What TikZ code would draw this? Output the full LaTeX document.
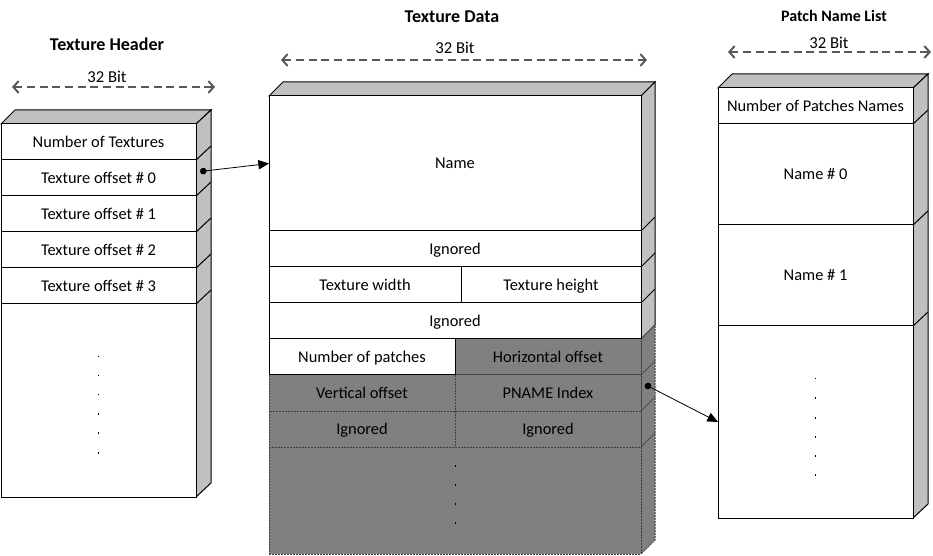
\documentclass[tikz,border=0pt]{standalone}
\usepackage{fontspec}
\setmainfont{Carlito}
\usetikzlibrary{arrows.meta}

\definecolor{sidegray}{RGB}{192,192,192}
\definecolor{darkfill}{RGB}{128,128,128}
\definecolor{rulegray}{RGB}{89,89,89}

\tikzset{
  cell/.style={draw=black, line width=0.75pt, fill=white, inner sep=0pt, outer sep=0pt, text height=1.7ex, text depth=0ex, font=\fontsize{12.3}{14}\selectfont},
  darkcell/.style={cell, draw=black!75, fill=darkfill, dash pattern=on 1.5pt off 0.75pt},
  face/.style={draw=black, line width=0.75pt, fill=sidegray},
  darkface/.style={face, draw=black!75, fill=darkfill, dash pattern=on 1.5pt off 0.75pt},
  title/.style={font=\fontsize{13.5}{16}\selectfont\bfseries},
  bitlabel/.style={font=\fontsize{12.5}{14}\selectfont},
  bitspan/.style={rulegray, line width=1.5pt, dash pattern=on 6pt off 3.5pt, {Straight Barb[length=4pt,width=9pt]}-{Straight Barb[length=4pt,width=9pt]}},
  pointer/.style={line width=0.6pt, {Circle[length=5pt]}-{Triangle[length=8pt,width=7pt]}},
}

% one memory cell: [style]{name}{x1}{y1}{x2}{y2}{text}
\newcommand{\memcell}[7][cell]{%
  \node[#1, minimum width={(#5-#3)*0.75pt}, minimum height={(#6-#4)*0.75pt}] (#2) at ({(#3+#5)/2},{(#4+#6)/2}) {#7};}

\begin{document}
\begin{tikzpicture}[x=0.75pt,y=-0.75pt]
  \useasboundingbox (0,0) rectangle (933,556);

  % Texture Header
  \node[title] (headtitle) at (107,44) {Texture Header};
  \node[bitlabel] (headbits) at (107,77) {32 Bit};
  \coordinate (headl) at (12,87);
  \coordinate (headr) at (215,87);
  \draw[bitspan] (headl) -- (headr);

  \draw[face] (1,124) -- (15,110) -- (211,110) -- (196,124) -- cycle;
  \draw[face] (196,124) -- (211,110) -- (211,483) -- (196,497) -- cycle;
  \foreach \y in {160,196,232,268,304}
    \draw[line width=0.75pt] (196,\y) -- (211,\y-14);

  \memcell{numtex}{1}{124}{196}{160}{Number of Textures}
  \memcell{texoff0}{1}{160}{196}{196}{Texture offset \# 0}
  \memcell{texoff1}{1}{196}{196}{232}{Texture offset \# 1}
  \memcell{texoff2}{1}{232}{196}{268}{Texture offset \# 2}
  \memcell{texoff3}{1}{268}{196}{304}{Texture offset \# 3}
  \memcell{headdots}{1}{304}{196}{497}{}
  \foreach \y in {356,375,394,413,432,452}
    \fill (97.5,\y) rectangle +(1.5,1.5);

  % Texture Data
  \node[title] (datatitle) at (452,17) {Texture Data};
  \node[bitlabel] (databits) at (455,48) {32 Bit};
  \coordinate (datal) at (281,60);
  \coordinate (datar) at (647,60);
  \draw[bitspan] (datal) -- (datar);

  \draw[face] (269,96) -- (283,82) -- (655,82) -- (641,96) -- cycle;
  \draw[face] (641,96) -- (655,82) -- (655,325) -- (641,339) -- cycle;
  \foreach \y in {231,267,303}
    \draw[line width=0.75pt] (641,\y) -- (655,\y-14);
  \draw[darkface] (641,339) -- (655,325) -- (655,540) -- (641,554) -- cycle;
  \foreach \y in {375,411,447}
    \draw[line width=0.75pt, black!75, dash pattern=on 1.5pt off 0.75pt] (641,\y) -- (655,\y-14);

  \memcell[darkcell]{horoff}{455}{339}{641}{375}{Horizontal offset}
  \memcell[darkcell]{vertoff}{269}{375}{455}{411}{Vertical offset}
  \memcell[darkcell]{pname}{455}{375}{641}{411}{PNAME Index}
  \memcell[darkcell]{ignleft}{269}{411}{455}{447}{Ignored}
  \memcell[darkcell]{ignright}{455}{411}{641}{447}{Ignored}
  \memcell[darkcell]{datadots}{269}{447}{641}{554}{}
  \foreach \y in {465,484,503,522}
    \fill (454.5,\y) rectangle +(1.5,1.5);

  \memcell{texname}{269}{96}{641}{231}{Name}
  \memcell{ignone}{269}{231}{641}{267}{Ignored}
  \memcell{texwidth}{269}{267}{461}{303}{Texture width}
  \memcell{texheight}{461}{267}{641}{303}{Texture height}
  \memcell{igntwo}{269}{303}{641}{339}{Ignored}
  \memcell{numpatch}{269}{339}{455}{375}{Number of patches}

  % Patch Name List
  \node[title, font=\fontsize{12}{14}\selectfont\bfseries] (listtitle) at (834,16) {Patch Name List};
  \node[bitlabel] (listbits) at (829,43) {32 Bit};
  \coordinate (listl) at (728,52);
  \coordinate (listr) at (931,52);
  \draw[bitspan] (listl) -- (listr);

  \draw[face] (718,88) -- (732,74) -- (928,74) -- (913,88) -- cycle;
  \draw[face] (913,88) -- (928,74) -- (928,504) -- (913,518) -- cycle;
  \foreach \y in {124,225,326}
    \draw[line width=0.75pt] (913,\y) -- (928,\y-14);

  \memcell{numnames}{718}{88}{913}{124}{Number of Patches Names}
  \memcell{namezero}{718}{124}{913}{225}{Name \# 0}
  \memcell{nameone}{718}{225}{913}{326}{Name \# 1}
  \memcell{namedots}{718}{326}{913}{518}{}
  \foreach \y in {378,397,417,436,455,474}
    \fill (814.5,\y) rectangle +(1.5,1.5);

  % pointers
  \coordinate (offsetdot) at (200,171.5);
  \coordinate (pnamedot) at (645,384.5);
  \draw[pointer] (offsetdot) -- (texname.west);
  \draw[pointer] (pnamedot) -- (namedots.west);
\end{tikzpicture}
\end{document}
